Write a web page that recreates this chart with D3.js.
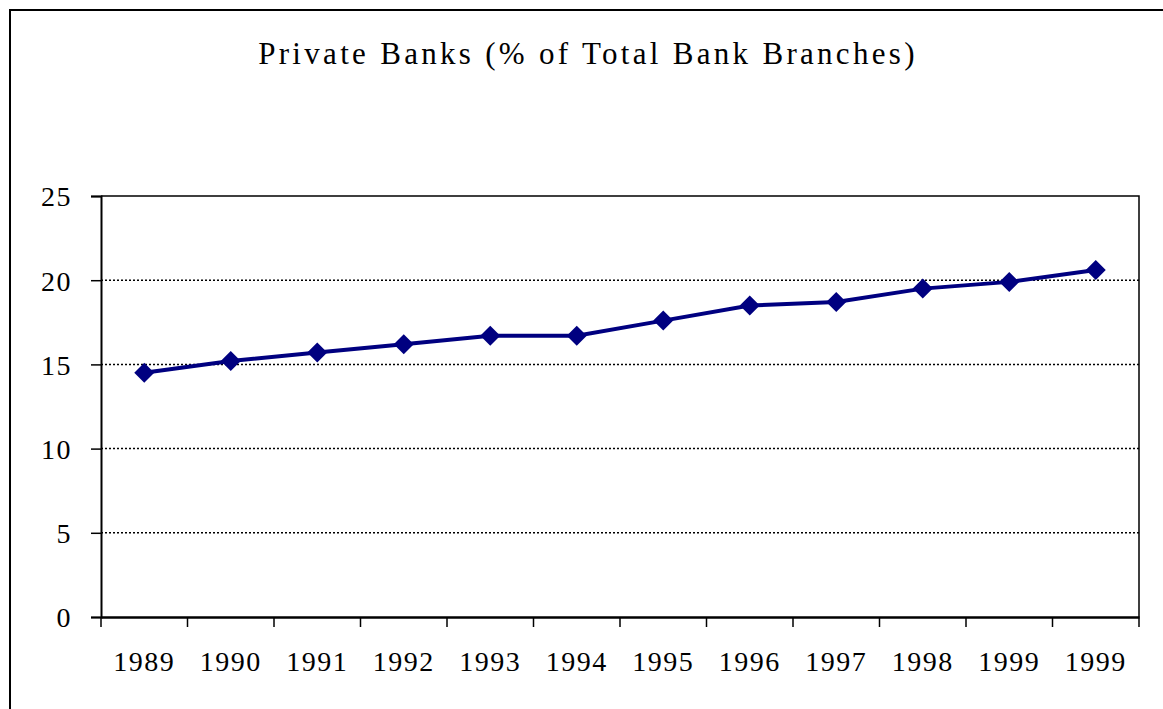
<!DOCTYPE html>
<html><head><meta charset="utf-8">
<script src="https://cdn.jsdelivr.net/npm/d3@7"></script>
<style>body{margin:0;background:#fff}svg{display:block}</style>
</head><body>
<svg id="c" width="1163" height="709"></svg>
<script>
const categories = ["1989","1990","1991","1992","1993","1994","1995","1996","1997","1998","1999","1999 "];
const values = [14.5, 15.2, 15.7, 16.2, 16.7, 16.7, 17.6, 18.5, 18.7, 19.5, 19.9, 20.6];
const yTicks = [0, 5, 10, 15, 20, 25];
const title = "Private Banks (% of Total Bank Branches)";

const svg = d3.select("#c");
const font = "'Liberation Serif','Times New Roman',serif";
svg.append("rect").attr("x",10).attr("y",10).attr("width",1200).attr("height",800)
  .attr("fill","#fff").attr("stroke","#000").attr("stroke-width",2);

const L=101, R=1139, T=196, B=617;
const x = d3.scaleBand().domain(categories).range([L,R]);
const y = d3.scaleLinear().domain([0,25]).range([B,T]);

svg.append("text").attr("x",588).attr("y",64).attr("text-anchor","middle")
  .attr("font-family",font).attr("font-size",31).attr("letter-spacing",3.3).text(title);

// gridlines
svg.append("g").selectAll("line").data(yTicks.filter(d=>d>0&&d<25)).join("line")
  .attr("x1",L).attr("x2",R).attr("y1",d=>y(d)).attr("y2",d=>y(d))
  .attr("stroke","#000").attr("stroke-width",1.5).attr("stroke-dasharray","2,2");
// top and right border
svg.append("path").attr("d",`M${L},${y(25)}H${R}V${B}`).attr("fill","none").attr("stroke","#000").attr("stroke-width",1.5);

const yAxis = svg.append("g").attr("transform",`translate(${L},0)`)
  .call(d3.axisLeft(y).tickValues(yTicks).tickSize(10).tickPadding(19));
yAxis.select(".domain").attr("stroke-width",2);
yAxis.selectAll("line").attr("stroke-width",1.5);
yAxis.selectAll("text").attr("font-family",font).attr("font-size",28).attr("letter-spacing",1.5).attr("fill","#000").attr("dy","0.35em");

const xAxis = svg.append("g").attr("transform",`translate(0,${B})`)
  .call(d3.axisBottom(x).tickSize(0).tickPadding(34).tickSizeOuter(0));
xAxis.select(".domain").attr("stroke-width",2.5);
xAxis.selectAll("text").attr("font-family",font).attr("font-size",28).attr("letter-spacing",1.5).attr("fill","#000");
// band boundary ticks
const bounds = categories.map(c=>x(c)).concat([R]);
svg.append("g").selectAll("line").data(bounds).join("line")
  .attr("x1",d=>d).attr("x2",d=>d).attr("y1",B).attr("y2",B+10)
  .attr("stroke","#000").attr("stroke-width",1.5);

const cx = (d,i)=>x(categories[i])+x.bandwidth()/2;
svg.append("path").datum(values)
  .attr("d",d3.line().x(cx).y(d=>y(d)))
  .attr("fill","none").attr("stroke","#000080").attr("stroke-width",4);
svg.append("g").selectAll("path").data(values).join("path")
  .attr("transform",(d,i)=>`translate(${cx(d,i)},${y(d)})`)
  .attr("d","M0,-10L10,0L0,10L-10,0Z").attr("fill","#000080");
</script>
</body></html>
